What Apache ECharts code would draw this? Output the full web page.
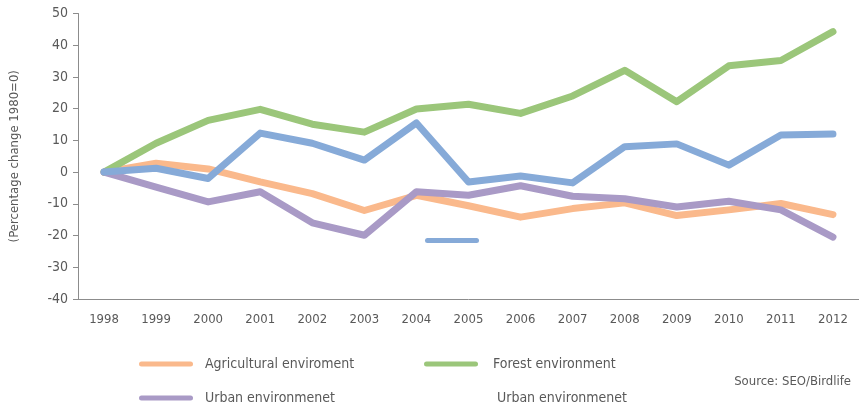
<!DOCTYPE html>
<html>
<head>
<meta charset="utf-8">
<script src="https://cdn.jsdelivr.net/npm/echarts@6/dist/echarts.min.js"></script>
<style>
  html, body { margin: 0; padding: 0; background: #fff; }
  #chart { width: 859px; height: 407px; }
</style>
</head>
<body>
<div id="chart"></div>
<script>
let $ = a => document.querySelector(a)

// data
let years = ['1998','1999','2000','2001','2002','2003','2004','2005','2006','2007','2008','2009','2010','2011','2012']
let agricultural = [0, 2.8, 1.0, -3.1, -6.8, -12.1, -7.3, -10.6, -14.2, -11.5, -9.7, -13.7, -11.9, -9.9, -13.4]
let forest = [0, 9.1, 16.3, 19.8, 15.1, 12.6, 19.9, 21.4, 18.5, 24.0, 32.1, 22.2, 33.5, 35.2, 44.3]
let urban = [0, -4.7, -9.4, -6.2, -16.0, -19.9, -6.2, -7.3, -4.3, -7.6, -8.4, -11.0, -9.2, -11.9, -20.5]
let urban2 = [0, 1.2, -2.0, 12.3, 9.1, 3.8, 15.5, -3.1, -1.2, -3.4, 8.0, 8.9, 2.2, 11.7, 12.0]
let yTicks = { min: -40, max: 50, interval: 10 }

let font = "'DejaVu Sans Condensed', 'Liberation Sans Narrow', sans-serif"
let grey = '#595959'
let axisGrey = '#8c8c8c'
let lineIcon = 'path://M2.5,0 H51.5 A2.5,2.5 0 0 1 51.5,5 H2.5 A2.5,2.5 0 0 1 2.5,0 Z'

let colors = {
    agri: '#fab98c',
    forest: '#9bc67a',
    urban: '#a99ac6',
    urban2: '#86aad8'
}

function mkSeries(name, data, color) {
    return {
        name: name,
        type: 'line',
        data: data,
        symbol: 'none',
        color: color,
        lineStyle: { width: 7, color: color, cap: 'round', join: 'round' }
    }
}

// one legend box per item, so they can sit where the original has them
function mkLegend(name, left, top, opts) {
    return Object.assign({
        data: [name],
        left: left,
        top: top,
        padding: 0,
        itemWidth: 54,
        itemHeight: 5,
        icon: lineIcon,
        selectedMode: false,
        textStyle: { fontFamily: font, fontSize: 14, color: grey, padding: [0, 0, 0, 7] }
    }, opts || {})
}

echarts.init($('#chart')).setOption({
    animation: false,
    backgroundColor: '#fff',
    grid: { left: 77, right: -5, top: 13.5, bottom: 108, containLabel: false },
    title: {
        text: 'Source: SEO/Birdlife',
        right: 8,
        top: 375,
        padding: 0,
        textStyle: { fontFamily: font, fontSize: 13, fontWeight: 'normal', color: grey }
    },
    legend: [
        mkLegend('Agricultural enviroment', 139, 357),
        mkLegend('Forest environment', 424, 357, { textStyle: { fontFamily: font, fontSize: 14, color: grey, padding: [0, 0, 0, 10] } }),
        mkLegend('Urban environmenet', 139, 391),
        mkLegend('urban2', 492, 391, { icon: 'none', itemWidth: 0, formatter: () => 'Urban environmenet', textStyle: { fontFamily: font, fontSize: 14, color: grey, padding: [0, 0, 0, 0] } }),
        mkLegend('urban2', 425, 238, { formatter: () => '' })
    ],
    xAxis: {
        type: 'category',
        data: years,
        boundaryGap: true,
        axisLine: { onZero: false, lineStyle: { color: axisGrey, width: 1 } },
        axisTick: { length: 5, lineStyle: { color: axisGrey } },
        axisLabel: { fontFamily: font, fontSize: 13, color: grey, margin: 14 }
    },
    yAxis: {
        type: 'value',
        min: yTicks.min,
        max: yTicks.max,
        interval: yTicks.interval,
        name: '(Percentage change 1980=0)',
        nameLocation: 'middle',
        nameGap: 57,
        nameTextStyle: { fontFamily: font, fontSize: 13, color: grey },
        axisLine: { show: true, lineStyle: { color: axisGrey, width: 1 } },
        axisTick: { show: true, length: 5, lineStyle: { color: axisGrey } },
        axisLabel: { fontFamily: font, fontSize: 14, color: grey, margin: 10 },
        splitLine: { show: false }
    },
    series: [
        mkSeries('Agricultural enviroment', agricultural, colors.agri),
        mkSeries('Forest environment', forest, colors.forest),
        mkSeries('Urban environmenet', urban, colors.urban),
        mkSeries('urban2', urban2, colors.urban2)
    ]
})
</script>
</body>
</html>
